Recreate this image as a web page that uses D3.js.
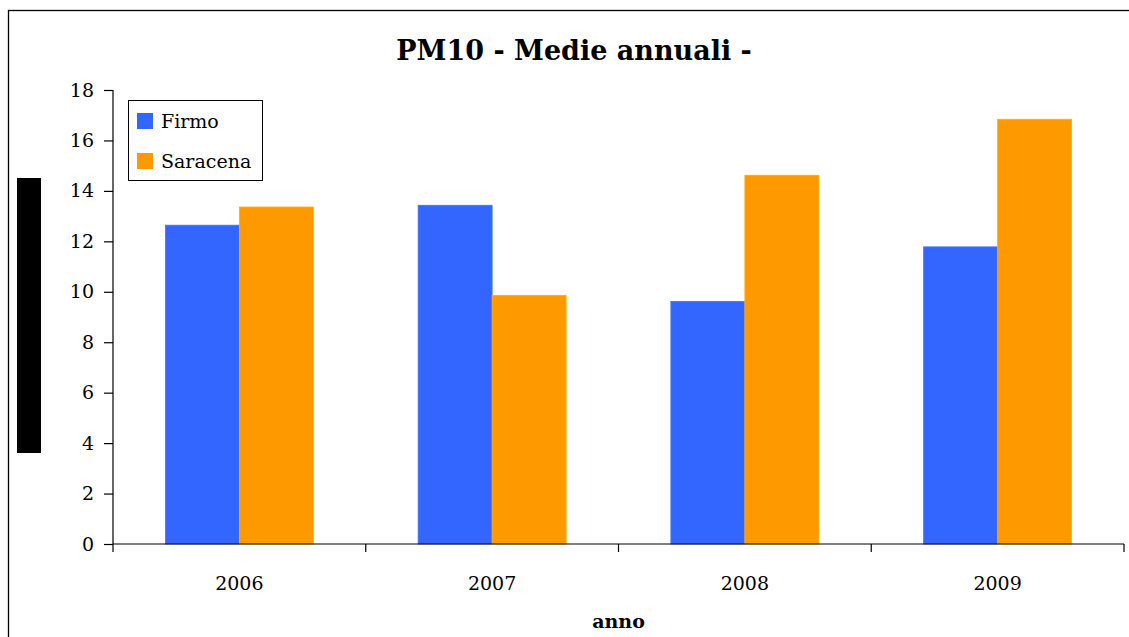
<!DOCTYPE html>
<html><head><meta charset="utf-8">
<script src="https://cdn.jsdelivr.net/npm/d3@7/dist/d3.min.js"></script>
<style>body{margin:0;background:#fff;} svg{display:block;} text{font-family:"DejaVu Serif","Liberation Serif",serif;}</style>
</head><body><svg id="c" width="1129" height="637"></svg>
<script>
const categories = ["2006","2007","2008","2009"];
const seriesNames = ["Firmo","Saracena"];
const firmo = [12.64, 13.43, 9.62, 11.78];
const saracena = [13.36, 9.86, 14.62, 16.84];
const yTicks = [0,2,4,6,8,10,12,14,16,18];
const colors = ["#3366FF","#FF9900"];
const title = "PM10 - Medie annuali -";
const xTitle = "anno";

(function(){
const svg = d3.select("#c");
const pL = 113, pR = 1124, pT = 90, pB = 544;

svg.append("rect").attr("x",8.5).attr("y",10.5).attr("width",1140).attr("height",700)
  .attr("fill","none").attr("stroke","#000").attr("stroke-width",1.3);
svg.append("rect").attr("x",17).attr("y",178).attr("width",24).attr("height",275).attr("fill","#000");

const x0 = d3.scaleBand().domain(categories).range([pL,pR]).paddingInner(0).paddingOuter(0);
const x1 = d3.scaleBand().domain(seriesNames).range([0, x0.bandwidth()]).paddingInner(0).paddingOuter(0.708);
const y = d3.scaleLinear().domain([0,18]).range([pB, pT]);

const data = categories.map((c,i)=>({cat:c, vals:[firmo[i], saracena[i]]}));
const g = svg.append("g");
data.forEach(d=>{
  d.vals.forEach((v,j)=>{
    g.append("rect")
      .attr("x", x0(d.cat)+x1(seriesNames[j]))
      .attr("y", y(v))
      .attr("width", x1.bandwidth())
      .attr("height", y(0)-y(v))
      .attr("fill", colors[j])
      .attr("stroke", d3.color(colors[j]).brighter(0.4))
      .attr("stroke-width",0.8);
  });
});

const yAxis = d3.axisLeft(y).tickValues(yTicks).tickSize(9).tickPadding(10).tickFormat(d3.format("d"));
const ya = svg.append("g").attr("transform",`translate(${pL},0)`).call(yAxis);
ya.select(".domain").attr("d",`M0,${pT}V${pB}`).attr("stroke","#000").attr("stroke-width",1.2);
ya.selectAll(".tick line").attr("stroke","#000").attr("stroke-width",1.2);
ya.selectAll("text").attr("font-size",19).attr("fill","#000").style("font-family","'DejaVu Serif',serif");

const xa = svg.append("g").attr("transform",`translate(0,${pB})`);
xa.append("line").attr("x1",pL).attr("x2",pR).attr("y1",0).attr("y2",0).attr("stroke","#000").attr("stroke-width",1.2);
const bounds = categories.map(c=>x0(c)).concat([pR]);
xa.selectAll("line.tk").data(bounds).enter().append("line").attr("class","tk")
  .attr("x1",d=>d).attr("x2",d=>d).attr("y1",0).attr("y2",8).attr("stroke","#000").attr("stroke-width",1.2);
xa.selectAll("text").data(categories).enter().append("text")
  .attr("x",d=>x0(d)+x0.bandwidth()/2).attr("y",46).attr("text-anchor","middle")
  .attr("font-size",19).attr("fill","#000").text(d=>d);

svg.append("text").attr("x",(pL+pR)/2).attr("y",628).attr("text-anchor","middle")
  .attr("font-size",19).attr("font-weight","bold").text(xTitle);

svg.append("text").attr("x",574).attr("y",60).attr("text-anchor","middle")
  .attr("font-size",27).attr("font-weight","bold").text(title);

const lg = svg.append("g");
lg.append("rect").attr("x",128.5).attr("y",100.5).attr("width",134).attr("height",80)
  .attr("fill","#fff").attr("stroke","#000").attr("stroke-width",1);
seriesNames.forEach((s,i)=>{
  lg.append("rect").attr("x",137).attr("y",113+i*40).attr("width",16).attr("height",16).attr("fill",colors[i]);
  lg.append("text").attr("x",161).attr("y",128+i*40).attr("font-size",19).attr("fill","#000").text(s);
});
})();
</script></body></html>
